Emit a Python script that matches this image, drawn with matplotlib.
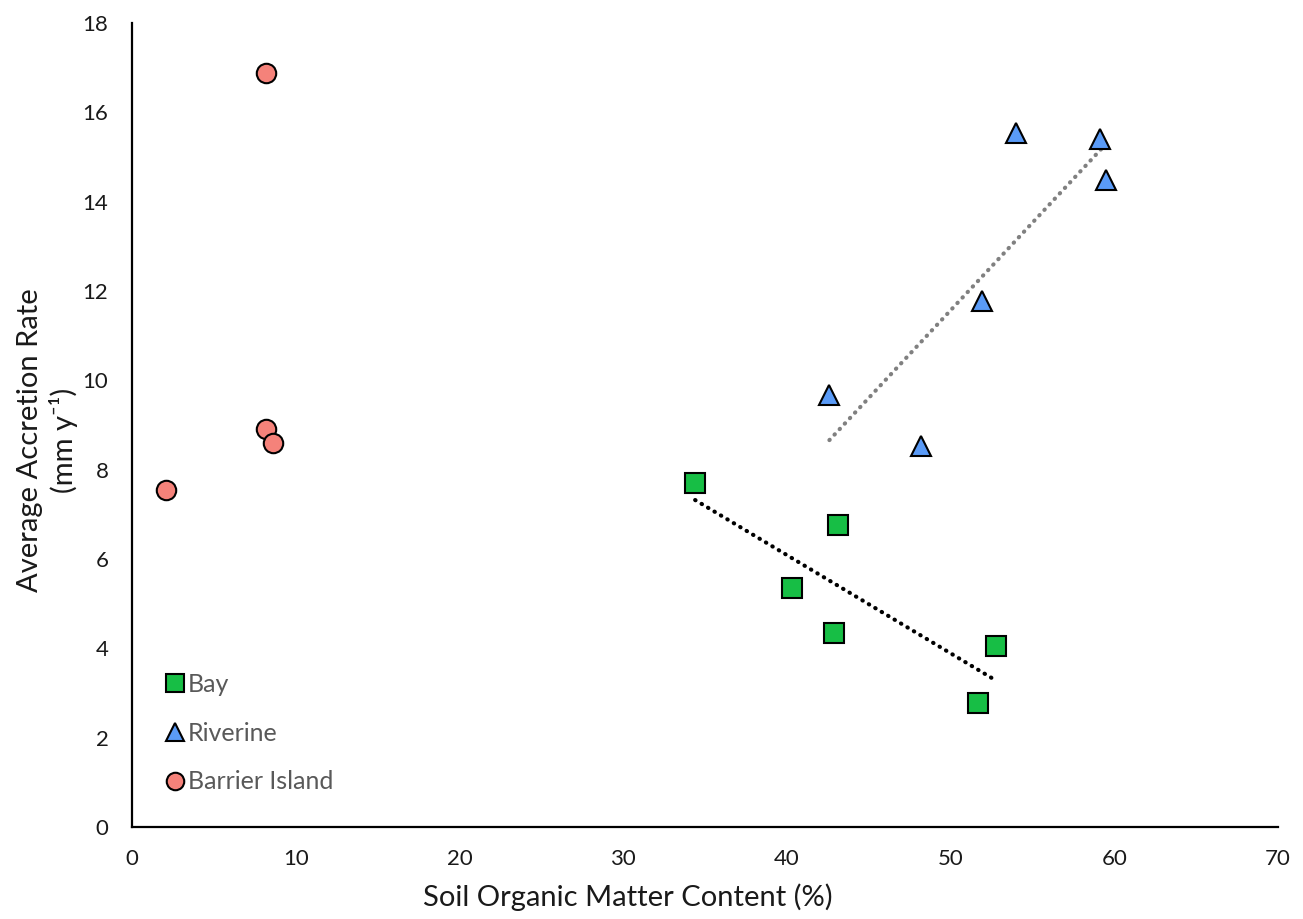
import numpy as np
import matplotlib
matplotlib.use('Agg')
from matplotlib import pyplot as plt

plt.rcParams['font.family'] = ['Lato', 'DejaVu Sans']

# data
bay_x = [34.4, 43.1, 40.3, 42.9, 52.8, 51.7]
bay_y = [7.70, 6.77, 5.35, 4.34, 4.05, 2.78]

riv_x = [54.0, 59.1, 59.5, 51.9, 42.6, 48.2]
riv_y = [15.54, 15.40, 14.48, 11.78, 9.67, 8.53]

bar_x = [8.2, 8.2, 8.6, 2.1]
bar_y = [16.88, 8.91, 8.60, 7.54]

x_ticks = [0, 10, 20, 30, 40, 50, 60, 70]
y_ticks = [0, 2, 4, 6, 8, 10, 12, 14, 16, 18]

green = '#17BE45'
blue = '#5A9BF7'
salmon = '#F5827A'

fig = plt.figure(figsize=(13.03, 9.19), dpi=100)
ax = fig.add_axes([0.1013, 0.1001, 0.8795, 0.8749])

# linear trendlines (dotted), fitted over each group's x range
for xs, ys, c in [(bay_x, bay_y, 'black'), (riv_x, riv_y, '#808080')]:
    k, b = np.polyfit(xs, ys, 1)
    xx = np.array([min(xs), max(xs)])
    ax.plot(xx, k * xx + b, linestyle=(0, (0.1, 1.7)), color=c, lw=3.0,
            dash_capstyle='round', zorder=2)

ax.plot(bay_x, bay_y, 's', ms=14, mfc=green, mec='black', mew=1.5,
        ls='none', label='Bay', zorder=3)
ax.plot(riv_x, riv_y, '^', ms=15, mfc=blue, mec='black', mew=1.5,
        ls='none', label='Riverine', zorder=3)
ax.plot(bar_x, bar_y, 'o', ms=14, mfc=salmon, mec='black', mew=1.5,
        ls='none', label='Barrier Island', zorder=3)

ax.set_xlim(0, 70)
ax.set_ylim(0, 18)
ax.set_xticks(x_ticks)
ax.set_yticks(y_ticks)
ax.tick_params(axis='both', length=0, labelsize=16, colors='#1a1a1a')
ax.tick_params(axis='x', pad=16)
ax.tick_params(axis='y', pad=17)

for s in ['top', 'right']:
    ax.spines[s].set_visible(False)
for s in ['left', 'bottom']:
    ax.spines[s].set_linewidth(1.6)
    ax.spines[s].set_color('black')

ax.set_xlabel('Soil Organic Matter Content (%)', fontsize=21, color='#1a1a1a')
ax.xaxis.set_label_coords(0.433, -0.070)
ax.set_ylabel('Average Accretion Rate\n(mm y\u207b\u00b9)', fontsize=21, color='#1a1a1a',
              linespacing=1.25)
ax.yaxis.set_label_coords(-0.047, 0.481)

leg = ax.legend(loc='lower left', bbox_to_anchor=(0.007, 0.014), frameon=False,
                fontsize=18, handletextpad=0.0, labelspacing=1.03,
                handlelength=1.0, markerscale=0.9)
for t in leg.get_texts():
    t.set_color('#595959')

plt.savefig('out.png', dpi=100)
